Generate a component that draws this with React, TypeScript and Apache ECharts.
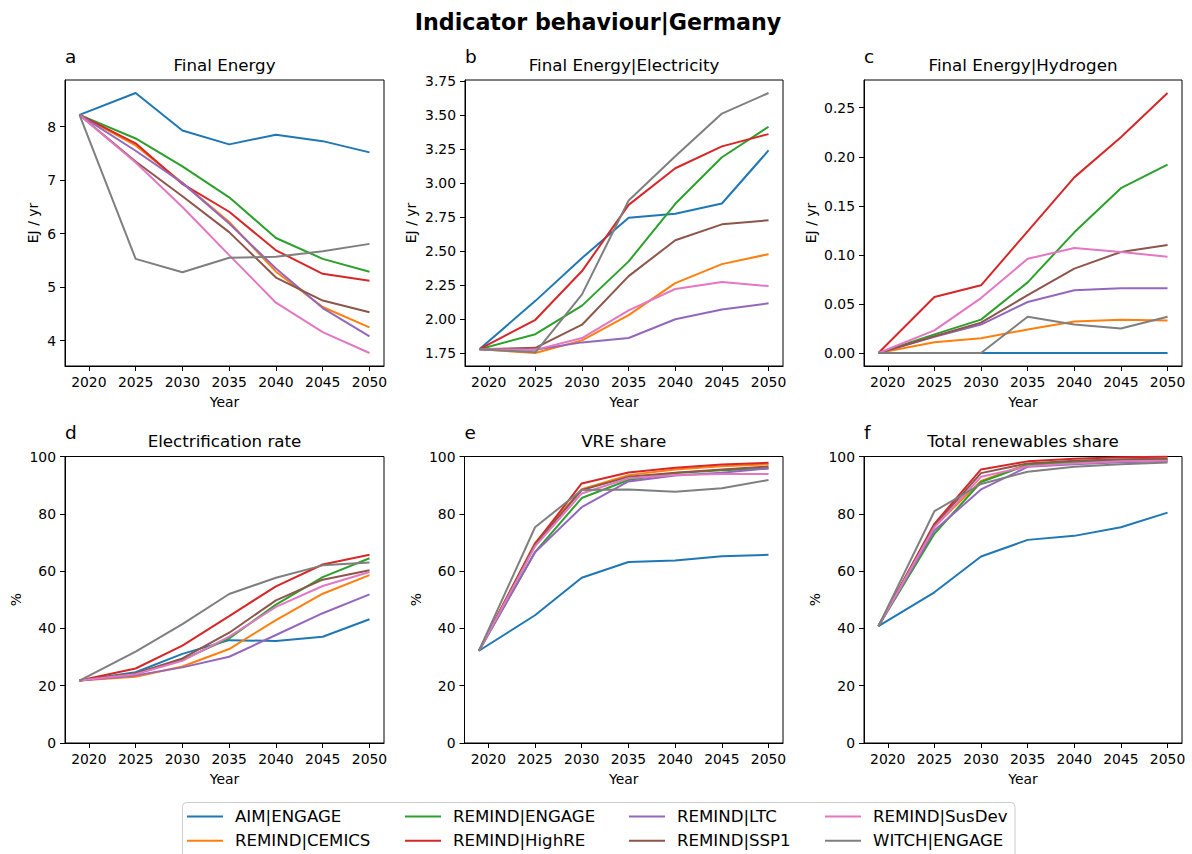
import React, { useEffect, useRef } from "react";
import * as echarts from "echarts";

// Model years and tick years
const years = [2019, 2025, 2030, 2035, 2040, 2045, 2050];
const yearTicks = [2020, 2025, 2030, 2035, 2040, 2045, 2050];

const models = [
  "AIM|ENGAGE",
  "REMIND|CEMICS",
  "REMIND|ENGAGE",
  "REMIND|HighRE",
  "REMIND|LTC",
  "REMIND|SSP1",
  "REMIND|SusDev",
  "WITCH|ENGAGE",
];
const colors = ["#1f77b4", "#ff7f0e", "#2ca02c", "#d62728", "#9467bd", "#8c564b", "#e377c2", "#7f7f7f"];

// One row per model, in the order of `models`
const finalEnergy = [
  [8.22, 8.63, 7.93, 7.67, 7.85, 7.73, 7.52],
  [8.22, 7.65, 6.95, 6.22, 5.29, 4.63, 4.25],
  [8.22, 7.78, 7.26, 6.68, 5.92, 5.53, 5.29],
  [8.22, 7.69, 6.93, 6.41, 5.69, 5.25, 5.12],
  [8.22, 7.55, 6.95, 6.19, 5.35, 4.61, 4.08],
  [8.22, 7.35, 6.70, 6.03, 5.18, 4.75, 4.53],
  [8.22, 7.33, 6.50, 5.60, 4.71, 4.16, 3.77],
  [8.22, 5.53, 5.28, 5.55, 5.57, 5.67, 5.81],
];
const electricity = [
  [1.78, 2.135, 2.45, 2.745, 2.775, 2.85, 3.24],
  [1.78, 1.752, 1.845, 2.03, 2.265, 2.405, 2.478],
  [1.78, 1.89, 2.10, 2.425, 2.848, 3.19, 3.414],
  [1.78, 1.996, 2.354, 2.84, 3.109, 3.27, 3.36],
  [1.78, 1.776, 1.83, 1.862, 2.0, 2.072, 2.117],
  [1.78, 1.79, 1.96, 2.317, 2.58, 2.697, 2.727],
  [1.78, 1.775, 1.862, 2.065, 2.222, 2.273, 2.244],
  [1.78, 1.757, 2.183, 2.873, 3.197, 3.511, 3.662],
];
const hydrogen = [
  [0, 0, 0, 0, 0, 0, 0],
  [0, 0.011, 0.015, 0.024, 0.032, 0.034, 0.033],
  [0, 0.019, 0.034, 0.072, 0.123, 0.168, 0.192],
  [0, 0.057, 0.069, 0.124, 0.179, 0.22, 0.265],
  [0, 0.0165, 0.029, 0.052, 0.064, 0.066, 0.066],
  [0, 0.017, 0.031, 0.059, 0.086, 0.103, 0.11],
  [0, 0.023, 0.056, 0.096, 0.107, 0.103, 0.098],
  [0, 0, 0, 0.037, 0.029, 0.025, 0.037],
];
const electrificationRate = [
  [21.8, 24.7, 31.1, 35.9, 35.6, 37.1, 43.2],
  [21.8, 23.1, 26.7, 32.8, 42.9, 52.1, 58.6],
  [21.8, 24.3, 29.0, 36.5, 48.3, 57.9, 64.5],
  [21.8, 26.0, 34.0, 44.3, 54.7, 62.3, 65.7],
  [21.8, 23.6, 26.4, 30.1, 37.7, 45.3, 51.9],
  [21.8, 24.3, 29.5, 38.5, 49.8, 57.0, 60.3],
  [21.8, 24.0, 28.7, 37.1, 47.5, 54.8, 59.7],
  [21.8, 31.9, 41.5, 52.0, 57.7, 62.0, 63.0],
];
const vreShare = [
  [32.2, 44.6, 57.7, 63.2, 63.7, 65.2, 65.7],
  [32.2, 69.8, 88.6, 93.5, 95.5, 96.6, 97.3],
  [32.2, 66.6, 85.5, 91.8, 94.2, 95.2, 95.8],
  [32.2, 69.5, 90.6, 94.4, 96.1, 97.2, 97.8],
  [32.2, 66.6, 82.3, 91.3, 93.4, 94.3, 95.9],
  [32.2, 69.3, 88.3, 92.9, 94.3, 95.5, 96.5],
  [32.2, 68.6, 87.1, 92.4, 93.5, 93.9, 93.9],
  [32.2, 75.3, 88.3, 88.5, 87.7, 88.9, 91.8],
];
const renewablesShare = [
  [40.8, 52.6, 65.1, 70.9, 72.3, 75.3, 80.4],
  [40.8, 75.5, 91.5, 97.3, 98.3, 98.8, 99.1],
  [40.8, 73.0, 91.1, 97.1, 98.0, 98.6, 98.8],
  [40.8, 76.5, 95.5, 98.3, 99.2, 99.7, 99.9],
  [40.8, 74.2, 88.5, 96.4, 97.3, 98.0, 98.3],
  [40.8, 75.9, 94.2, 97.6, 98.5, 99.0, 99.2],
  [40.8, 75.3, 92.9, 96.6, 97.6, 98.3, 98.5],
  [40.8, 80.9, 90.4, 94.7, 96.4, 97.3, 97.9],
];

const energyTicks = [4, 5, 6, 7, 8];
const electricityTicks = [1.75, 2.0, 2.25, 2.5, 2.75, 3.0, 3.25, 3.5, 3.75];
const hydrogenTicks = [0, 0.05, 0.1, 0.15, 0.2, 0.25];
const percentTicks = [0, 20, 40, 60, 80, 100];

const FONT = "DejaVu Sans";

type Panel = {
  letter: string;
  title: string;
  unit: string;
  values: number[][];
  ticks: number[];
  decimals: number;
  fixed?: [number, number];
  box: { left: number; top: number; width: number; height: number };
  unitX: number;
};

const panels: Panel[] = [
  { letter: "a", title: "Final Energy", unit: "EJ / yr", values: finalEnergy, ticks: energyTicks, decimals: 0,
    box: { left: 65, top: 80, width: 319, height: 286 }, unitX: 33 },
  { letter: "b", title: "Final Energy|Electricity", unit: "EJ / yr", values: electricity, ticks: electricityTicks, decimals: 2,
    box: { left: 465, top: 80, width: 318, height: 286 }, unitX: 411 },
  { letter: "c", title: "Final Energy|Hydrogen", unit: "EJ / yr", values: hydrogen, ticks: hydrogenTicks, decimals: 2,
    box: { left: 864, top: 80, width: 318, height: 286 }, unitX: 810.5 },
  { letter: "d", title: "Electrification rate", unit: "%", values: electrificationRate, ticks: percentTicks, decimals: 0,
    fixed: [0, 100], box: { left: 65, top: 456.5, width: 319, height: 286.5 }, unitX: 16 },
  { letter: "e", title: "VRE share", unit: "%", values: vreShare, ticks: percentTicks, decimals: 0,
    fixed: [0, 100], box: { left: 464.5, top: 456.5, width: 318.5, height: 286.5 }, unitX: 415.5 },
  { letter: "f", title: "Total renewables share", unit: "%", values: renewablesShare, ticks: percentTicks, decimals: 0,
    fixed: [0, 100], box: { left: 864, top: 456.5, width: 318, height: 286.5 }, unitX: 815 },
];

// Data limits widened by 5% on each side
function paddedRange(lo: number, hi: number): [number, number] {
  const pad = (hi - lo) * 0.05;
  return [lo - pad, hi + pad];
}

const legendColumns = [
  { left: 187, names: [models[0], models[1]] },
  { left: 405, names: [models[2], models[3]] },
  { left: 629, names: [models[4], models[5]] },
  { left: 825, names: [models[6], models[7]] },
];

function buildOption() {
  const [xMin, xMax] = paddedRange(years[0], years[years.length - 1]);
  const grid: any[] = [];
  const xAxis: any[] = [];
  const yAxis: any[] = [];
  const series: any[] = [];
  const graphic: any[] = [];

  const text = (t: string, x: number, y: number, size: number, extra: any = {}) => ({
    type: "text",
    x,
    y,
    rotation: extra.rotation || 0,
    silent: true,
    style: {
      text: t,
      fill: "#000",
      fontSize: size,
      fontFamily: FONT,
      fontWeight: extra.bold ? "bold" : "normal",
      align: extra.align || "center",
      textAlign: extra.align || "center",
      verticalAlign: "middle",
      textVerticalAlign: "middle",
    },
  });

  graphic.push(text("Indicator behaviour|Germany", 598, 21.5, 22.2, { bold: true }));

  panels.forEach((p, i) => {
    const { left, top, width, height } = p.box;
    grid.push({
      left, top, width, height,
      show: true,
      borderColor: "#000",
      borderWidth: 1,
      backgroundColor: "transparent",
      containLabel: false,
    });

    xAxis.push({
      type: "value",
      gridIndex: i,
      min: xMin,
      max: xMax,
      splitLine: { show: false },
      axisLine: { show: true, onZero: false, lineStyle: { color: "#000", width: 1 } },
      axisTick: { show: true, length: 5, lineStyle: { color: "#000", width: 1 }, customValues: yearTicks },
      axisLabel: {
        customValues: yearTicks,
        margin: 9,
        color: "#000",
        fontSize: 13.9,
        fontFamily: FONT,
        formatter: (v: number) => String(Math.round(v)),
      },
    });

    let yMin: number, yMax: number;
    if (p.fixed) {
      [yMin, yMax] = p.fixed;
    } else {
      const flat = p.values.flat();
      [yMin, yMax] = paddedRange(Math.min(...flat), Math.max(...flat));
    }
    yAxis.push({
      type: "value",
      gridIndex: i,
      min: yMin,
      max: yMax,
      splitLine: { show: false },
      axisLine: { show: true, onZero: false, lineStyle: { color: "#000", width: 1 } },
      axisTick: { show: true, length: 5, lineStyle: { color: "#000", width: 1 }, customValues: p.ticks },
      axisLabel: {
        customValues: p.ticks,
        margin: 9,
        color: "#000",
        fontSize: 13.9,
        fontFamily: FONT,
        formatter: (v: number) => v.toFixed(p.decimals),
      },
    });

    p.values.forEach((row, m) => {
      series.push({
        type: "line",
        name: models[m],
        xAxisIndex: i,
        yAxisIndex: i,
        data: years.map((yr, k) => [yr, row[k]]),
        symbol: "none",
        silent: true,
        clip: false,
        lineStyle: { color: colors[m], width: 2 },
        itemStyle: { color: colors[m] },
        z: 2,
      });
    });

    graphic.push(text(p.letter, left, top - 24, 18.5, { align: "left" }));
    graphic.push(text(p.title, left + width / 2, top - 15.5, 16.7));
    graphic.push(text("Year", left + width / 2, top + height + 35.5, 13.9));
    graphic.push(text(p.unit, p.unitX, top + height / 2, 13.9, { rotation: Math.PI / 2 }));
  });

  // Legend frame
  graphic.push({
    type: "rect",
    silent: true,
    z: -1,
    shape: { x: 182.5, y: 802.5, width: 832.5, height: 60, r: 4 },
    style: { fill: "#fff", stroke: "#cccccc", lineWidth: 1 },
  });

  const legend = legendColumns.map((col) => ({
    orient: "vertical",
    left: col.left,
    top: 807.5,
    padding: 0,
    itemGap: 6.3,
    itemWidth: 36,
    itemHeight: 2,
    icon: "rect",
    selectedMode: false,
    data: col.names,
    textStyle: {
      color: "#000",
      fontSize: 16.6,
      fontFamily: FONT,
      lineHeight: 18,
      padding: [0, 0, 0, 7],
    },
  }));

  return {
    animation: false,
    backgroundColor: "#fff",
    grid,
    xAxis,
    yAxis,
    series,
    legend,
    graphic,
  };
}

export default function App() {
  const ref = useRef<HTMLDivElement>(null);
  useEffect(() => {
    if (!ref.current) return;
    const chart = echarts.init(ref.current, null, { renderer: "svg" });
    chart.setOption(buildOption() as any);
    return () => chart.dispose();
  }, []);
  return (
    <div
      ref={ref}
      style={{ position: "fixed", left: 0, top: 0, width: 1192, height: 854, background: "#fff" }}
    />
  );
}
